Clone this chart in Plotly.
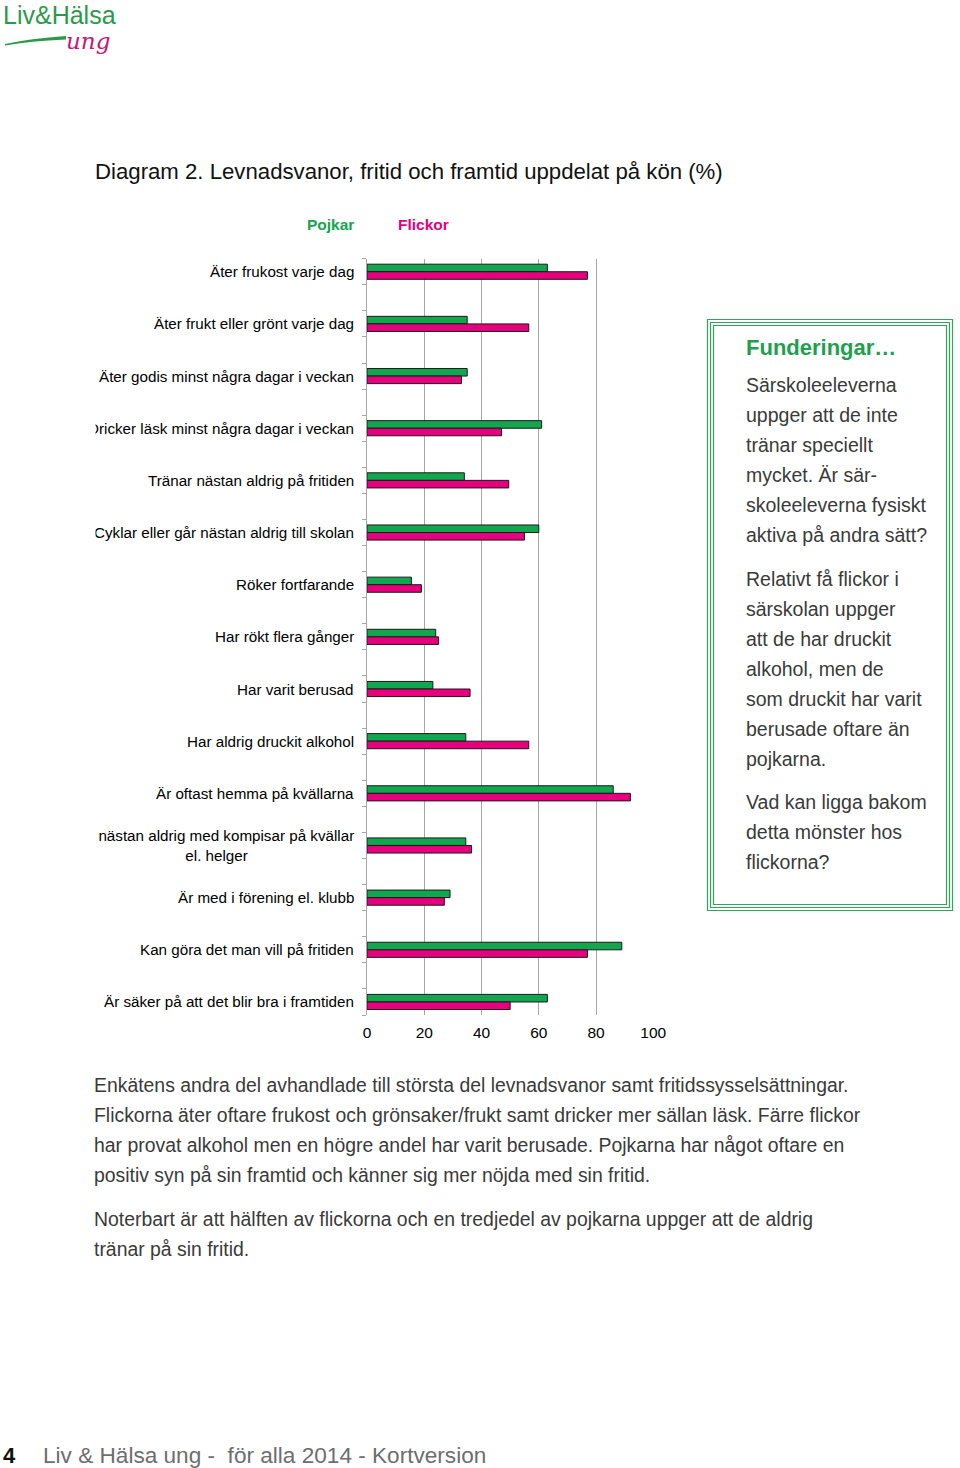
import plotly.graph_objects as go

W, H = 960, 1468

categories = [
    "Äter frukost varje dag",
    "Äter frukt eller grönt varje dag",
    "Äter godis minst några dagar i veckan",
    "Dricker läsk minst några dagar i veckan",
    "Tränar nästan aldrig på fritiden",
    "Cyklar eller går nästan aldrig till skolan",
    "Röker fortfarande",
    "Har rökt flera gånger",
    "Har varit berusad",
    "Har aldrig druckit alkohol",
    "Är oftast hemma på kvällarna",
    "Är nästan aldrig med kompisar på kvällar<br>el. helger",
    "Är med i förening el. klubb",
    "Kan göra det man vill på fritiden",
    "Är säker på att det blir bra i framtiden",
]
pojkar = [63, 35, 35, 61, 34, 60, 15.5, 24, 23, 34.5, 86, 34.5, 29, 89, 63]
flickor = [77, 56.5, 33, 47, 49.5, 55, 19, 25, 36, 56.5, 92, 36.5, 27, 77, 50]
x_ticks = [0, 20, 40, 60, 80, 100]

box_title = "Funderingar…"
box_lines = [
    "Särskoleeleverna", "uppger att de inte", "tränar speciellt",
    "mycket. Är sär-", "skoleeleverna fysiskt", "aktiva på andra sätt?",
    "Relativt få flickor i", "särskolan uppger", "att de har druckit",
    "alkohol, men de", "som druckit har varit", "berusade oftare än",
    "pojkarna.",
    "Vad kan ligga bakom", "detta mönster hos", "flickorna?",
]
box_line_y = [385, 415, 445, 475, 505, 535,
              579, 609, 639, 669, 699, 729, 759,
              802, 832, 862]
body_lines = [
    "Enkätens andra del avhandlade till största del levnadsvanor samt fritidssysselsättningar.",
    "Flickorna äter oftare frukost och grönsaker/frukt samt dricker mer sällan läsk. Färre flickor",
    "har provat alkohol men en högre andel har varit berusade. Pojkarna har något oftare en",
    "positiv syn på sin framtid och känner sig mer nöjda med sin fritid.",
    "Noterbart är att hälften av flickorna och en tredjedel av pojkarna uppger att de aldrig",
    "tränar på sin fritid.",
]
body_line_y = [1085, 1115, 1145, 1175, 1219, 1249]

GREEN = "#12a64f"
PINK = "#e6007e"
GRID = "#a6a6a6"
FONT = "Liberation Sans, Arial, sans-serif"


def fx(p):
    return p / W


def fy(p):
    return 1 - p / H


pos = list(range(len(categories)))

fig = go.Figure()
fig.add_trace(go.Bar(x=pojkar, y=pos, orientation="h", name="Pojkar",
                     marker=dict(color=GREEN, line=dict(color="#1a1a1a", width=1))))
fig.add_trace(go.Bar(x=flickor, y=pos, orientation="h", name="Flickor",
                     marker=dict(color=PINK, line=dict(color="#1a1a1a", width=1))))

top_px, bot_px = 258.7, 1015.0
fig.update_layout(
    template="none",
    width=W, height=H, autosize=False,
    margin=dict(l=0, r=0, t=0, b=0, pad=0, autoexpand=False),
    paper_bgcolor="white", plot_bgcolor="white",
    showlegend=False,
    barmode="group", bargap=0.71, bargroupgap=0,
    font=dict(family=FONT, color="black"),
    xaxis=dict(domain=[fx(367), fx(653.3)], range=[0, 100], tickvals=x_ticks,
               automargin=False,
               showgrid=True, gridcolor=GRID, gridwidth=1, zeroline=False,
               showline=False, ticks="", tickfont=dict(size=15.5, color="black"),
               ticklabelstandoff=6),
    yaxis=dict(domain=[fy(bot_px), fy(top_px)], range=[len(pos) - 0.75, -0.25],
               automargin=False,
               tickvals=pos, showticklabels=False, ticks="", showgrid=False,
               zeroline=False, showline=True, linecolor=GRID, linewidth=1,
               minor=dict(tickvals=[p - 0.25 for p in pos] + [p + 0.25 for p in pos],
                          ticks="outside", ticklen=4, tickcolor=GRID, showgrid=False)),
)

ann = []
# category labels
for p, c in zip(pos, categories):
    ann.append(dict(x=fx(356), y=p, xref="paper", yref="y", xanchor="right",
                    yanchor="middle", text=c, align="center", showarrow=False,
                    font=dict(size=15.2, color="black", family=FONT)))
# white mask imitating the clipped label area
ann.append(dict(x=0, y=fy(380), xref="paper", yref="paper", xanchor="left",
                yanchor="top", text=" ", width=92, height=500, bgcolor="white",
                showarrow=False))

# title and legend
ann.append(dict(x=fx(93), y=fy(171), xref="paper", yref="paper", xanchor="left",
                yanchor="middle", showarrow=False,
                text="Diagram 2. Levnadsvanor, fritid och framtid uppdelat på kön (%)",
                font=dict(size=22.2, color="#111111", family=FONT)))
ann.append(dict(x=fx(330), y=fy(224), xref="paper", yref="paper", xanchor="center",
                yanchor="middle", showarrow=False, text="<b>Pojkar</b>",
                font=dict(size=15.5, color=GREEN, family=FONT)))
ann.append(dict(x=fx(423), y=fy(224), xref="paper", yref="paper", xanchor="center",
                yanchor="middle", showarrow=False, text="<b>Flickor</b>",
                font=dict(size=15.5, color=PINK, family=FONT)))

# box text
ann.append(dict(x=fx(744), y=fy(347), xref="paper", yref="paper", xanchor="left",
                yanchor="middle", showarrow=False, text="<b>" + box_title + "</b>",
                font=dict(size=22, color="#1fa04f", family=FONT)))
for t, yy in zip(box_lines, box_line_y):
    ann.append(dict(x=fx(744), y=fy(yy), xref="paper", yref="paper", xanchor="left",
                    yanchor="middle", showarrow=False, text=t,
                    font=dict(size=19.5, color="#3a3a3a", family=FONT)))
for t, yy in zip(body_lines, body_line_y):
    ann.append(dict(x=fx(92), y=fy(yy), xref="paper", yref="paper", xanchor="left",
                    yanchor="middle", showarrow=False, text=t,
                    font=dict(size=19.4, color="#3a3a3a", family=FONT)))

# logo
ann.append(dict(x=fx(1), y=fy(15), xref="paper", yref="paper", xanchor="left",
                yanchor="middle", showarrow=False, text="Liv&Hälsa",
                font=dict(size=25, color="#2a9a4a", family=FONT)))
ann.append(dict(x=fx(64), y=fy(41), xref="paper", yref="paper", xanchor="left",
                yanchor="middle", showarrow=False, text="<i>ung</i>",
                font=dict(size=23, color="#c2187a", family="DejaVu Serif, serif")))

# footer
ann.append(dict(x=fx(1), y=fy(1455), xref="paper", yref="paper", xanchor="left",
                yanchor="middle", showarrow=False, text="<b>4</b>",
                font=dict(size=22, color="#111111", family=FONT)))
ann.append(dict(x=fx(41), y=fy(1455), xref="paper", yref="paper", xanchor="left",
                yanchor="middle", showarrow=False,
                text="Liv &amp; Hälsa ung -  för alla 2014 - Kortversion",
                font=dict(size=22.6, color="#6e6e6e", family=FONT)))

fig.update_layout(annotations=ann)

shapes = []
for (x0, y0, x1, y1) in [(707.5, 319.5, 952.5, 910.5), (710.5, 322.5, 949.5, 907.5),
                         (713.5, 325.5, 946.5, 904.5)]:
    shapes.append(dict(type="rect", xref="paper", yref="paper",
                       x0=fx(x0), x1=fx(x1), y0=fy(y1), y1=fy(y0),
                       line=dict(color="#2da55a", width=1.2), fillcolor="rgba(0,0,0,0)"))
# logo swoosh
sw = [(5, 44), (30, 38.5), (66, 36), (66, 39.5), (30, 41), (5, 45.5)]
path = "M {} {} Q {} {} {} {} L {} {} Q {} {} {} {} Z".format(
    fx(sw[0][0]), fy(sw[0][1]), fx(sw[1][0]), fy(sw[1][1]), fx(sw[2][0]), fy(sw[2][1]),
    fx(sw[3][0]), fy(sw[3][1]), fx(sw[4][0]), fy(sw[4][1]), fx(sw[5][0]), fy(sw[5][1]))
shapes.append(dict(type="path", xref="paper", yref="paper", path=path,
                   fillcolor="#2a9a4a", line=dict(width=0)))
fig.update_layout(shapes=shapes)

fig.write_html("out.html", config={"responsive": False, "displayModeBar": False},
               post_script="document.body.style.margin='0';"
                           "document.body.style.overflow='hidden';")
